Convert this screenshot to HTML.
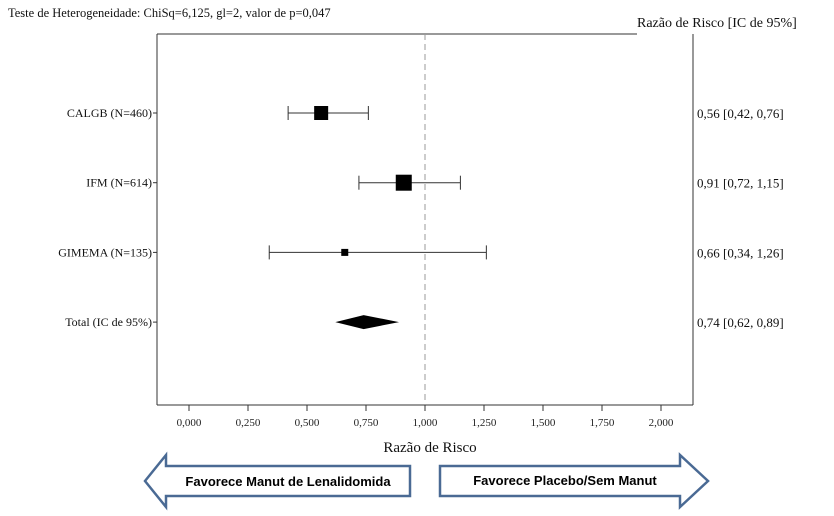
<!DOCTYPE html>
<html><head><meta charset="utf-8"><style>
body{margin:0;background:#fff;}
svg text{font-family:"Liberation Serif",serif;}
</style></head><body>
<svg width="834" height="511" xmlns="http://www.w3.org/2000/svg">
<text x="8" y="17" font-size="12.5" fill="#111">Teste de Heterogeneidade: ChiSq=6,125, gl=2, valor de p=0,047</text>
<text x="637" y="27" font-size="14" fill="#111">Razão de Risco [IC de 95%]</text>
<g id="frame">
<line x1="157" y1="34" x2="637" y2="34" stroke="#333"/>
<line x1="157" y1="34" x2="157" y2="405" stroke="#333"/>
<line x1="693" y1="34" x2="693" y2="405" stroke="#333"/>
<line x1="157" y1="405" x2="693" y2="405" stroke="#333"/>
</g>
<g id="ticks"></g>
<g id="marks"></g>
<text x="430" y="452" font-size="15" text-anchor="middle" fill="#111">Razão de Risco</text>
<g>
<polygon points="145,481 166,455 166,466 410,466 410,496 166,496 166,507" fill="#fff" stroke="#4a6a94" stroke-width="2.5"/>
<text x="288" y="486" font-size="13" font-weight="bold" text-anchor="middle" style="font-family:'Liberation Sans',sans-serif">Favorece Manut de Lenalidomida</text>
</g>
<g>
<polygon points="440,466 680,466 680,455 708,481 680,507 680,496 440,496" fill="#fff" stroke="#4a6a94" stroke-width="2.5"/>
<text x="565" y="485" font-size="13" font-weight="bold" text-anchor="middle" style="font-family:'Liberation Sans',sans-serif">Favorece Placebo/Sem Manut</text>
</g>
</svg>
<script>
const studies=["CALGB (N=460)","IFM (N=614)","GIMEMA (N=135)"];
const hr=[0.56,0.91,0.66];
const lo=[0.42,0.72,0.34];
const hi=[0.76,1.15,1.26];
const weight=[14,16,7];
const totalLabel="Total (IC de 95%)";
const totalHr=0.74,totalLo=0.62,totalHi=0.89;
const tickVals=[0,0.25,0.5,0.75,1,1.25,1.5,1.75,2];
const tickLabels=["0,000","0,250","0,500","0,750","1,000","1,250","1,500","1,750","2,000"];
const fmt=v=>v.toFixed(2).replace('.',',');
const X=v=>189+236*v;
const rowY=i=>113+69.7*i;
const NS="http://www.w3.org/2000/svg";
function mk(tag,attrs,parent,text){const e=document.createElementNS(NS,tag);for(const k in attrs)e.setAttribute(k,attrs[k]);if(text!==undefined)e.textContent=text;parent.appendChild(e);return e;}
const tg=document.getElementById('ticks'),mg=document.getElementById('marks');
tickVals.forEach((v,i)=>{
 const l=mk('line',{x1:X(v),y1:405,x2:X(v),y2:411,stroke:'#333'},tg);
 
 
 const t=mk('text',{x:X(v),y:426,'font-size':11,'text-anchor':'middle',fill:'#222'},tg,tickLabels[i]);
 
 
});
const ref=mk('line',{x1:X(1),y1:34,x2:X(1),y2:405,stroke:'#999','stroke-dasharray':'6,4'},mg);


function rowLabels(i,label,val){
 const y=rowY(i);
 const tk=mk('line',{x1:153,y1:y,x2:157,y2:y,stroke:'#333'},mg);
 
 
 const t=mk('text',{x:152,y:y+4,'font-size':12,'text-anchor':'end',fill:'#111'},mg,label);
 
 
 const r=mk('text',{x:697,y:y+5,'font-size':13,fill:'#111'},mg,val);
 
 
}
studies.forEach((s,i)=>{
 const y=rowY(i);
 rowLabels(i,s,fmt(hr[i])+' ['+fmt(lo[i])+', '+fmt(hi[i])+']');
 const ci=mk('line',{x1:X(lo[i]),y1:y,x2:X(hi[i]),y2:y,stroke:'#333'},mg);
 
 
 [lo[i],hi[i]].forEach(v=>{const c=mk('line',{x1:X(v),y1:y-7,x2:X(v),y2:y+7,stroke:'#333'},mg);
 
 });
 const w=weight[i];
 const sq=mk('rect',{x:X(hr[i])-w/2,y:y-w/2,width:w,height:w,fill:'#000'},mg);
 
 
});
rowLabels(3,totalLabel,fmt(totalHr)+' ['+fmt(totalLo)+', '+fmt(totalHi)+']');
const ty=rowY(3);
const d=mk('polygon',{points:`${X(totalLo)},${ty} ${X(totalHr)},${ty-7} ${X(totalHi)},${ty} ${X(totalHr)},${ty+7}`,fill:'#000'},mg);


</script>
</body></html>
